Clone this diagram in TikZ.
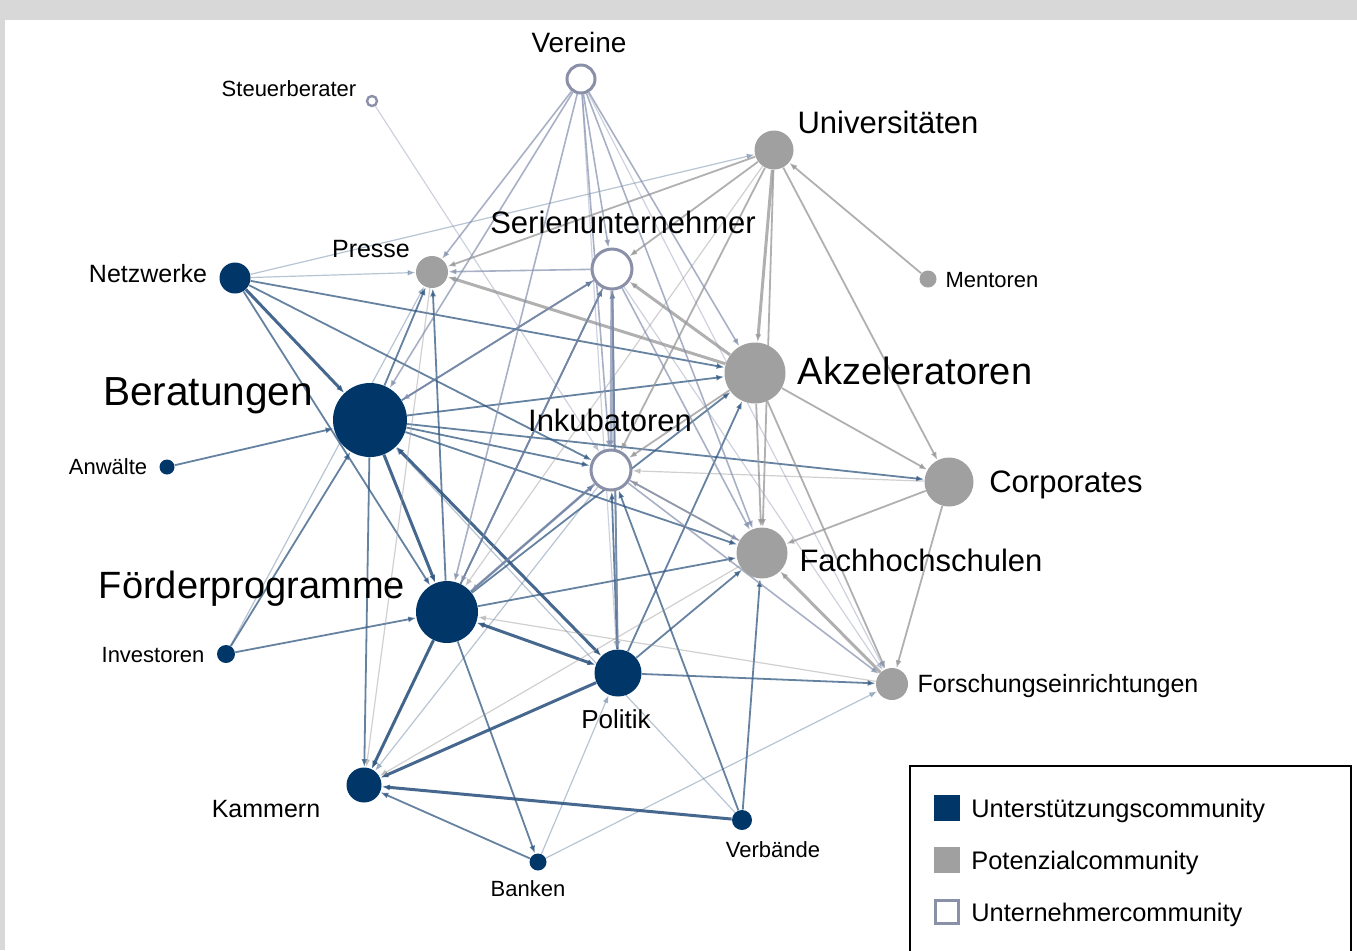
\documentclass[tikz,border=0pt]{standalone}
\usepackage{fontspec}
\setmainfont{Liberation Sans}
\usetikzlibrary{arrows.meta,backgrounds}
\definecolor{navy}{RGB}{0,54,104}
\definecolor{potgray}{RGB}{160,160,160}
\definecolor{untline}{RGB}{138,144,168}
\definecolor{edgeblue}{RGB}{50,88,130}
\definecolor{edgegray}{RGB}{150,150,150}
\definecolor{edgelight}{RGB}{130,143,172}
\definecolor{band}{RGB}{216,216,216}
\begin{document}
\begin{tikzpicture}[x=0.5pt, y=-0.5pt,
    supp/.style={circle, fill=navy, inner sep=0pt, minimum size=#1pt},
    pot/.style={circle, fill=potgray, inner sep=0pt, minimum size=#1pt},
    unt/.style={circle, draw=untline, fill=white, line width=1.5pt, inner sep=0pt, minimum size=#1pt},
    lbl/.style={font=\fontsize{#1}{#1}\selectfont, inner sep=0pt, anchor=base},
    tip/.style={-{Latex[length=4pt,width=3pt]}},
    se/.style={tip, draw=edgeblue, opacity=0.75, line width=0.9pt},
    sethick/.style={se, opacity=0.9, line width=1.5pt},
    selight/.style={tip, draw=edgeblue, opacity=0.35, line width=0.6pt},
    pe/.style={tip, draw=edgegray, opacity=0.75, line width=0.9pt},
    pethick/.style={pe, line width=1.5pt},
    pelight/.style={tip, draw=edgegray, opacity=0.45, line width=0.6pt},
    ue/.style={tip, draw=edgelight, opacity=0.7, line width=0.8pt},
    uelight/.style={tip, draw=edgelight, opacity=0.4, line width=0.6pt}
]
    \useasboundingbox (0,0) rectangle (1357,950);
    % frame band
    \fill[band] (0,0) rectangle (1357,20);
    \fill[band] (0,0) rectangle (5,950);

    % Unterstuetzungscommunity
    \node[supp=37] (ber) at (370,420) {};
    \node[supp=31] (foe) at (447,612) {};
    \node[supp=23.5] (pol) at (618,673) {};
    \node[supp=17.5] (kam) at (364,785) {};
    \node[supp=15.5] (netz) at (235,278) {};
    \node[supp=7.5] (anw) at (167,467) {};
    \node[supp=9] (inv) at (226,654) {};
    \node[supp=10] (verb) at (742,820) {};
    \node[supp=8.5] (bank) at (538,862) {};

    % Potenzialcommunity
    \node[pot=30.5] (akz) at (755,373) {};
    \node[pot=19.5] (unis) at (774,150) {};
    \node[pot=24.5] (corp) at (949,482) {};
    \node[pot=25.5] (fh) at (762,553) {};
    \node[pot=16] (forsch) at (892,684) {};
    \node[pot=16] (presse) at (432,272) {};
    \node[pot=8.5] (mentoren) at (928,279) {};

    % Unternehmercommunity
    \node[unt=14] (vereine) at (581,79) {};
    \node[unt=20] (serien) at (612,269) {};
    \node[unt=20] (ink) at (611,470) {};
    \node[unt=5, line width=1.2pt] (steuer) at (372,101) {};

    % Labels
    \node[lbl=14] (vereineL) at (579,52) {Vereine};
    \node[lbl=11] (steuerL) at (289,96) {Steuerberater};
    \node[lbl=15.5] (unisL) at (888,133) {Universitäten};
    \node[lbl=15.5] (serienL) at (623,233) {Serienunternehmer};
    \node[lbl=12.5] (presseL) at (371,257) {Presse};
    \node[lbl=12.5] (netzL) at (148,282) {Netzwerke};
    \node[lbl=11] (mentorenL) at (992,287) {Mentoren};
    \node[lbl=19] (akzL) at (915,384) {Akzeleratoren};
    \node[lbl=20.3] (berL) at (208,405) {Beratungen};
    \node[lbl=15.5] (inkL) at (610,431) {Inkubatoren};
    \node[lbl=11] (anwL) at (108,474) {Anwälte};
    \node[lbl=15.5] (corpL) at (1066,492) {Corporates};
    \node[lbl=15.5] (fhL) at (921,571) {Fachhochschulen};
    \node[lbl=19] (foeL) at (252,598) {Förderprogramme};
    \node[lbl=13] (polL) at (616,728) {Politik};
    \node[lbl=11] (invL) at (153,662) {Investoren};
    \node[lbl=12.5] (forschL) at (1058,692) {Forschungseinrichtungen};
    \node[lbl=12.5] (kamL) at (266,817) {Kammern};
    \node[lbl=11] (verbL) at (773,857) {Verbände};
    \node[lbl=11] (bankL) at (528,896) {Banken};

    % Legend
    \draw[line width=0.8pt] (910,955) -- (910,766) -- (1351,766) -- (1351,955);
    \node[fill=navy, inner sep=0pt, minimum size=13pt] (legsupp) at (947,808) {};
    \node[fill=potgray, inner sep=0pt, minimum size=13pt] (legpot) at (947,860) {};
    \node[draw=untline, line width=1.5pt, fill=white, inner sep=0pt, minimum size=11.5pt] (legunt) at (947,912) {};
    \node[lbl=12.7, anchor=base west] (legsuppT) at (971,817) {Unterstützungscommunity};
    \node[lbl=12.7, anchor=base west] (legpotT) at (971,869) {Potenzialcommunity};
    \node[lbl=12.7, anchor=base west] (leguntT) at (971,921) {Unternehmercommunity};

    % Edges
    \begin{scope}[on background layer]
        \foreach \a/\b in {netz/ber, ber/foe, foe/kam, pol/kam, verb/kam}
            \draw[sethick] (\a) -- (\b);
        \foreach \a/\b in {ber/pol, pol/foe}
            \draw[sethick, {Latex[length=4pt,width=3pt]}-{Latex[length=4pt,width=3pt]}] (\a) -- (\b);
        \foreach \a/\b in {anw/ber, inv/foe, inv/ber, netz/foe, netz/akz, netz/ink, ber/ink, ber/serien,
                ber/presse, ber/akz, ber/corp, ber/fh, ber/kam, foe/fh, foe/ink, foe/akz, foe/serien,
                foe/presse, foe/bank, pol/fh, pol/akz, pol/ink, pol/serien, pol/forsch, bank/kam,
                verb/fh, verb/ink}
            \draw[se] (\a) -- (\b);
        \foreach \a/\b in {netz/presse, netz/unis, bank/pol, bank/forsch, verb/ber, ink/kam, inv/presse, serien/kam}
            \draw[selight] (\a) -- (\b);
        \foreach \a/\b in {unis/akz, forsch/fh, akz/presse, akz/serien}
            \draw[pethick] (\a) -- (\b);
        \foreach \a/\b in {unis/presse, unis/serien, unis/corp, unis/fh, unis/ink, mentoren/unis, akz/corp,
                akz/fh, akz/forsch, akz/ink, corp/fh, corp/forsch, fh/ink}
            \draw[pe] (\a) -- (\b);
        \foreach \a/\b in {forsch/foe, fh/kam, presse/kam, corp/ink, unis/foe}
            \draw[pelight] (\a) -- (\b);
        \foreach \a/\b in {vereine/ber, vereine/foe, vereine/presse, vereine/serien, vereine/ink, vereine/akz,
                vereine/fh, serien/presse, serien/foe, serien/ber, serien/fh, serien/pol, ink/fh, ink/forsch}
            \draw[ue] (\a) -- (\b);
        \draw[ue, line width=1.5pt] (serien) -- (ink);
        \draw[ue, line width=1.3pt] (ink) -- (foe);
        \foreach \a/\b in {vereine/pol, vereine/forsch, serien/forsch, steuer/ink}
            \draw[uelight] (\a) -- (\b);
    \end{scope}
\end{tikzpicture}
\end{document}
